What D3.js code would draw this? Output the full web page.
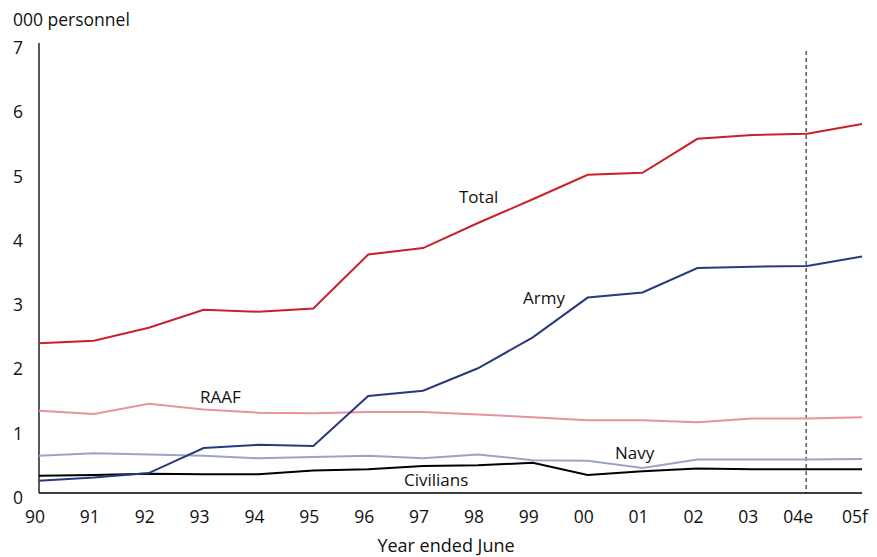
<!DOCTYPE html>
<html><head><meta charset="utf-8">
<script src="https://cdn.jsdelivr.net/npm/d3@7"></script>
<style>body{margin:0;background:#fff}svg{display:block}text{font-family:"Open Sans","Noto Sans",sans-serif;fill:#111}</style>
</head><body><svg id="c" width="877" height="557"></svg>
<script>
const years = ["90","91","92","93","94","95","96","97","98","99","00","01","02","03","04e","05f"];
const total     = [2.33,2.37,2.57,2.85,2.82,2.87,3.71,3.81,4.20,4.57,4.95,4.98,5.51,5.57,5.59,5.74];
const army      = [0.19,0.24,0.31,0.70,0.75,0.73,1.51,1.59,1.94,2.42,3.04,3.12,3.50,3.52,3.53,3.68];
const raaf      = [1.28,1.23,1.39,1.30,1.25,1.24,1.26,1.26,1.22,1.18,1.13,1.13,1.10,1.16,1.16,1.18];
const navy      = [0.58,0.62,0.60,0.58,0.54,0.56,0.58,0.54,0.60,0.51,0.50,0.39,0.52,0.52,0.52,0.53];
const civilians = [0.27,0.28,0.30,0.29,0.29,0.35,0.37,0.42,0.43,0.47,0.28,0.34,0.38,0.37,0.37,0.37];
const yTicks = [0,1,2,3,4,5,6,7];

const series = [
  {name:"RAAF", values:raaf, color:"#e8939b", label:{x:200,y:403}},
  {name:"Navy", values:navy, color:"#9ba4c7", label:{x:615,y:459}},
  {name:"Civilians", values:civilians, color:"#000000", label:{x:404,y:486}},
  {name:"Army", values:army, color:"#283a7d", label:{x:523,y:304}},
  {name:"Total", values:total, color:"#c9202b", label:{x:459,y:203}}
];

const svg = d3.select("#c");
const x = d3.scalePoint().domain(years).range([39, 862]);
const y = d3.scaleLinear().domain([0, 7]).range([493, 43]);

// axes lines
svg.append("line").attr("x1",39).attr("x2",39).attr("y1",y(7)).attr("y2",y(0)).attr("stroke","#000").attr("stroke-width",1.3);
svg.append("line").attr("x1",39).attr("x2",862).attr("y1",y(0)).attr("y2",y(0)).attr("stroke","#000").attr("stroke-width",1.3);

// y tick labels
svg.append("g").selectAll("text").data(yTicks).join("text")
  .attr("x",13).attr("y",d=>y(d)+11).attr("font-size",17.5).text(d=>d);

// x tick labels
svg.append("g").selectAll("text").data(years).join("text")
  .attr("x",d=>x(d)+6).attr("y",523).attr("text-anchor","end").attr("font-size",17.5).text(d=>d);

// titles
svg.append("text").attr("x",13).attr("y",26).attr("font-size",17.5).text("000 personnel");
svg.append("text").attr("x",446).attr("y",552).attr("text-anchor","middle").attr("font-size",18).text("Year ended June");

// dashed forecast line
svg.append("line").attr("x1",x("04e")-1).attr("x2",x("04e")-1).attr("y1",51).attr("y2",y(0))
  .attr("stroke","#000").attr("stroke-width",1).attr("stroke-dasharray","4,3");

const line = d3.line().x((d,i)=>x(years[i])).y(d=>y(d));
series.forEach(s=>{
  svg.append("path").attr("d",line(s.values)).attr("fill","none")
    .attr("stroke",s.color).attr("stroke-width",2).attr("stroke-linejoin","miter");
  svg.append("text").attr("x",s.label.x).attr("y",s.label.y).attr("font-size",17).text(s.name);
});
</script></body></html>
